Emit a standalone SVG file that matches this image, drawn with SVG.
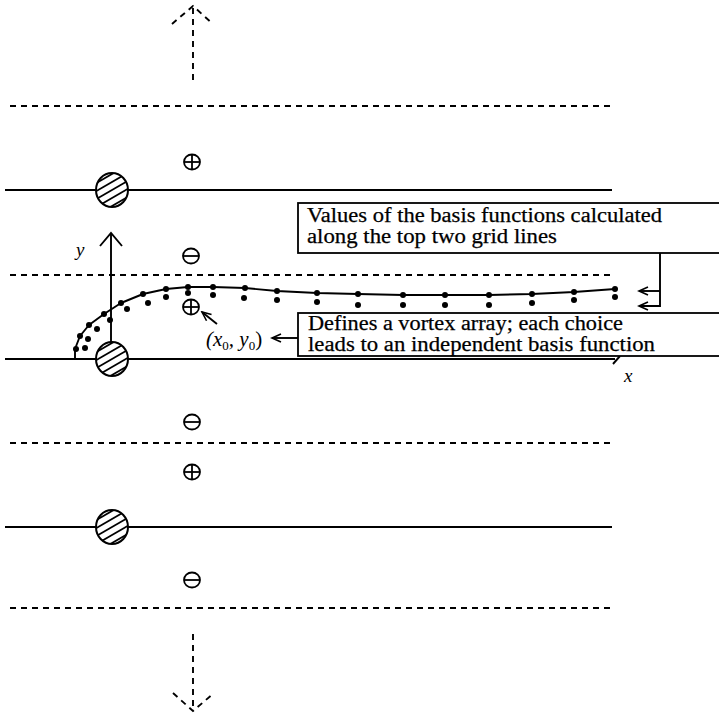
<svg xmlns="http://www.w3.org/2000/svg" width="719" height="713" viewBox="0 0 719 713">
<style>
.dash{stroke:#000;stroke-width:1.9;stroke-dasharray:6 5;fill:none}
.solid{stroke:#000;stroke-width:1.9;fill:none}
.box{stroke:#000;stroke-width:1.8;fill:#fff}
.bt{font-family:"Liberation Serif","Times New Roman",serif;font-size:20.5px;fill:#000;stroke:#000;stroke-width:0.25}
.it{font-family:"Liberation Serif","Times New Roman",serif;font-style:italic;fill:#000}
.sym{stroke:#000;stroke-width:1.8;fill:none}
.dot{fill:#000}
</style>
<defs>
<clipPath id="cc"><ellipse cx="0" cy="0" rx="16" ry="17"/></clipPath>
<g id="hc">
<ellipse cx="0" cy="0" rx="16" ry="17" fill="#fff"/>
<g clip-path="url(#cc)" stroke="#000" stroke-width="1.8">
<line x1="-33" y1="3" x2="19" y2="-27"/>
<line x1="-29.5" y1="9" x2="22.5" y2="-21"/>
<line x1="-26" y1="15" x2="26" y2="-15"/>
<line x1="-22.5" y1="21" x2="29.5" y2="-9"/>
<line x1="-19" y1="27" x2="33" y2="-3"/>
</g>
<ellipse cx="0" cy="0" rx="16" ry="17" fill="none" stroke="#000" stroke-width="2"/>
</g>
<g id="plus"><ellipse cx="0" cy="0" rx="8" ry="7.5" class="sym"/><line x1="-8" y1="0" x2="8" y2="0" class="sym"/><line x1="0" y1="-7.5" x2="0" y2="7.5" class="sym"/></g>
<g id="minus"><ellipse cx="0" cy="0" rx="8" ry="7.5" class="sym"/><line x1="-8" y1="0" x2="8" y2="0" class="sym"/></g>
<marker id="ah" markerWidth="12" markerHeight="12" refX="10" refY="6" orient="auto" markerUnits="userSpaceOnUse"><path d="M1,2 L10,6 L1,10" fill="none" stroke="#000" stroke-width="1.6"/></marker>
</defs>

<g id="grid">
<line class="dash" x1="10" y1="106" x2="610" y2="106"/>
<line class="solid" x1="5" y1="190" x2="612" y2="190"/>
<line class="dash" x1="10" y1="275" x2="610" y2="275"/>
<line class="solid" x1="5" y1="359" x2="615" y2="359"/>
<line class="dash" x1="10" y1="443" x2="610" y2="443"/>
<line class="solid" x1="5" y1="527" x2="612" y2="527"/>
<line class="dash" x1="10" y1="608" x2="610" y2="608"/>
</g>

<g id="top-arrow">
<line class="dash" x1="193" y1="80" x2="193" y2="8"/>
<path class="dash" d="M172,24 L193,6 L213,24"/>
</g>
<g id="bottom-arrow">
<line class="dash" x1="193" y1="634" x2="193" y2="708"/>
<path class="dash" d="M173,693 L193,711 L214,693"/>
</g>

<g id="axes">
<line class="solid" x1="111" y1="234" x2="111" y2="345"/>
<path class="solid" d="M100,246 L111,233 L122,246"/>
<text class="it" x="76" y="256" font-size="19">y</text>
<line class="solid" x1="613" y1="364" x2="620" y2="356"/>
<text class="it" x="624" y="382" font-size="19">x</text>
</g>

<g id="cylinders">
<use href="#hc" x="112" y="190"/>
<use href="#hc" x="112" y="359"/>
<use href="#hc" x="112" y="527"/>
</g>

<g id="vortices">
<use href="#plus" x="192" y="162"/>
<use href="#minus" x="191" y="256"/>
<use href="#plus" x="191" y="307"/>
<use href="#minus" x="192" y="422"/>
<use href="#plus" x="192" y="472"/>
<use href="#minus" x="192" y="580"/>
</g>

<g id="curve">
<polyline class="solid" stroke-linejoin="round" points="75,359 75,349 80,336 89,325 104,314 121,303 143,294 166,289 188,287 213,287 245,288 277,291 317,293 358,294 403,295 445,295 489,295 532,294 574,292 615,289"/>
<g class="dot">
<circle cx="76" cy="349" r="3"/><circle cx="80" cy="336" r="3"/><circle cx="89" cy="325" r="3"/><circle cx="104" cy="314" r="3"/><circle cx="121" cy="303" r="3"/><circle cx="143" cy="294" r="3"/><circle cx="166" cy="289" r="3"/><circle cx="188" cy="287" r="3"/><circle cx="213" cy="287" r="3"/><circle cx="245" cy="288" r="3"/><circle cx="277" cy="291" r="3"/><circle cx="317" cy="293" r="3"/><circle cx="358" cy="294" r="3"/><circle cx="403" cy="295" r="3"/><circle cx="445" cy="295" r="3"/><circle cx="489" cy="295" r="3"/><circle cx="532" cy="294" r="3"/><circle cx="574" cy="292" r="3"/><circle cx="615" cy="289" r="3"/>
<circle cx="85" cy="348" r="3"/><circle cx="88" cy="339" r="3"/><circle cx="97" cy="329" r="3"/><circle cx="110" cy="320" r="3"/><circle cx="127" cy="309" r="3"/><circle cx="148" cy="303" r="3"/><circle cx="166" cy="297" r="3"/><circle cx="188" cy="293" r="3"/><circle cx="213" cy="295" r="3"/><circle cx="244" cy="298" r="3"/><circle cx="277" cy="300" r="3"/><circle cx="317" cy="302" r="3"/><circle cx="358" cy="305" r="3"/><circle cx="403" cy="305" r="3"/><circle cx="445" cy="305" r="3"/><circle cx="489" cy="305" r="3"/><circle cx="532" cy="303" r="3"/><circle cx="574" cy="300" r="3"/><circle cx="615" cy="297" r="3"/>
</g>
</g>

<g id="box-values">
<rect class="box" x="298" y="203" width="440" height="50"/>
<text class="bt" x="307" y="222" textLength="355" lengthAdjust="spacingAndGlyphs">Values of the basis functions calculated</text>
<text class="bt" x="307" y="243" textLength="250" lengthAdjust="spacingAndGlyphs">along the top two grid lines</text>
</g>

<g id="box-defines">
<rect class="box" x="298" y="313" width="440" height="43"/>
<text class="bt" x="308" y="330" textLength="315" lengthAdjust="spacingAndGlyphs">Defines a vortex array; each choice</text>
<text class="bt" x="308" y="351" textLength="347" lengthAdjust="spacingAndGlyphs">leads to an independent basis function</text>
</g>

<g id="label-x0y0">
<text class="it" x="206" y="346" font-size="21">(x<tspan font-style="normal" font-size="13" dy="4">0</tspan><tspan dy="-4">, y</tspan><tspan font-style="normal" font-size="13" dy="4">0</tspan><tspan dy="-4" font-style="normal">)</tspan></text>
</g>

<g id="connectors">
<line class="solid" x1="217" y1="324" x2="202" y2="312" marker-end="url(#ah)"/>
<line class="solid" x1="298" y1="338" x2="272" y2="338" marker-end="url(#ah)"/>
<polyline class="solid" points="660,253 660,306 639,306" marker-end="url(#ah)"/>
<line class="solid" x1="660" y1="291" x2="639" y2="291" marker-end="url(#ah)"/>
</g>
</svg>
